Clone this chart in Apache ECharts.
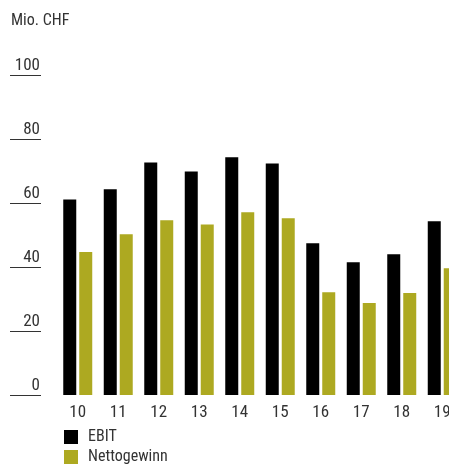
<!DOCTYPE html>
<html>
<head>
<meta charset="utf-8">
<script src="https://cdn.jsdelivr.net/npm/echarts@6/dist/echarts.min.js"></script>
<style>
html,body{margin:0;padding:0;background:#fff;}
#chart{width:449px;height:465px;}
</style>
</head>
<body>
<div id="chart"></div>
<script>
const categories = ['10','11','12','13','14','15','16','17','18','19'];
const ebit = [61.2, 64.4, 72.8, 70.0, 74.4, 72.5, 47.5, 41.6, 44.1, 54.4];
const nettogewinn = [44.8, 50.3, 54.7, 53.4, 57.2, 55.3, 32.2, 28.8, 31.9, 39.7];
const yTicks = [0, 20, 40, 60, 80, 100];
const seriesNames = ['EBIT', 'Nettogewinn'];

const FONT = "'Roboto Condensed', 'Roboto', sans-serif";
const TXT = '#333';

const legendBase = {
  orient: 'vertical', left: 64, padding: 0,
  itemWidth: 14, itemHeight: 14, icon: 'rect',
  textStyle: {fontSize: 16, color: TXT, fontFamily: FONT, padding: [0,0,0,5]}
};

const chart = echarts.init(document.getElementById('chart'), null, {renderer: 'canvas'});
chart.setOption({
  animation: false,
  textStyle: {fontFamily: FONT},
  title: {
    text: 'Mio. CHF', left: 11, top: 13, padding: 0,
    textStyle: {fontSize: 16, fontWeight: 'normal', color: TXT, fontFamily: FONT}
  },
  legend: [
    Object.assign({}, legendBase, {top: 429, data: [seriesNames[0]]}),
    Object.assign({}, legendBase, {top: 449, data: [seriesNames[1]]})
  ],
  grid: {left: 57.5, width: 405, top: 75.6, height: 319.4, containLabel: false, outerBoundsMode: 'none'},
  xAxis: {
    type: 'category', data: categories,
    axisLine: {show: false}, axisTick: {show: false},
    axisLabel: {fontSize: 17, color: TXT, fontFamily: FONT, margin: 9}
  },
  yAxis: {
    type: 'value', min: 0, max: 100, interval: 20, offset: 16.5,
    axisLine: {show: false},
    axisTick: {show: true, length: 31, lineStyle: {color: '#333', width: 1}},
    splitLine: {show: false},
    axisLabel: {
      fontSize: 17, color: TXT, fontFamily: FONT, margin: 1,
      verticalAlign: 'bottom', padding: [0,0,1,0],
      formatter: v => yTicks.includes(v) ? String(v) : ''
    }
  },
  series: [
    {name: seriesNames[0], type: 'bar', data: ebit, barWidth: 13, barGap: '23%',
     itemStyle: {color: '#000000'}},
    {name: seriesNames[1], type: 'bar', data: nettogewinn, barWidth: 13,
     itemStyle: {color: '#ada921'}}
  ]
});
</script>
</body>
</html>
